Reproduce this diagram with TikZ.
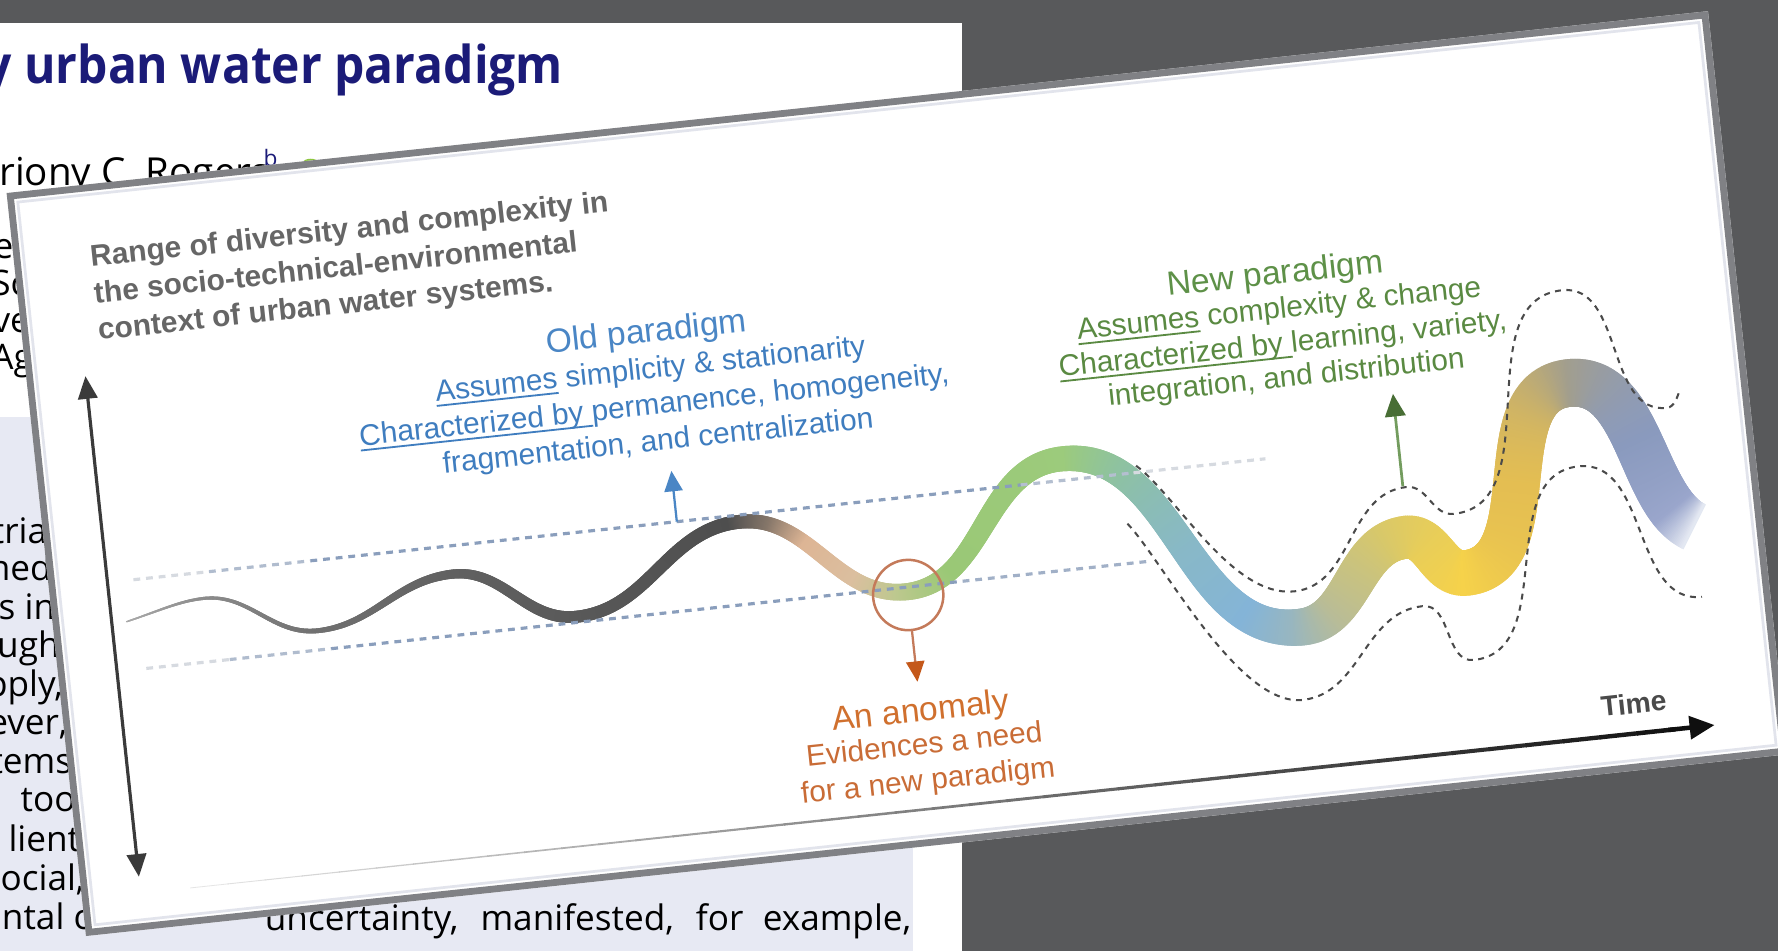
\documentclass[tikz,border=0pt]{standalone}
\usepackage{fontspec}
\setmainfont{Liberation Sans}
\newfontfamily\paperfont{Open Sans}
\newfontfamily\papertitle[FakeStretch=0.92]{Open Sans}
\usetikzlibrary{arrows.meta,decorations.markings}

% page and card colours
\definecolor{desk}{HTML}{58595B}
\definecolor{frame}{HTML}{808185}
\definecolor{framein}{HTML}{E2E4EC}
\definecolor{lav}{HTML}{E7E9F3}
\definecolor{navy}{HTML}{1B1B78}
\definecolor{orcid}{HTML}{8DC63F}
\definecolor{ttlgray}{HTML}{666666}
\definecolor{oldhead}{HTML}{4A86C5}
\definecolor{oldbody}{HTML}{3F7DBF}
\definecolor{newhead}{HTML}{5E9148}
\definecolor{newbody}{HTML}{5A8A42}
\definecolor{anhead}{HTML}{D0702E}
\definecolor{anbody}{HTML}{C96C36}
\definecolor{anring}{HTML}{C47A5A}
\definecolor{anarrow}{HTML}{C4581A}
\definecolor{dotblue}{HTML}{8A9EBC}
\definecolor{dotpale}{HTML}{D6DAE0}
\definecolor{envgray}{HTML}{4A4A4A}
\definecolor{axisdark}{HTML}{3A3A3A}
\definecolor{timegray}{HTML}{4A4A4A}

% colour stops of the trajectory ribbon
\definecolor{rs0}{HTML}{A9A9A9}
\definecolor{rs1}{HTML}{8C8C8C}
\definecolor{rs2}{HTML}{707070}
\definecolor{rs3}{HTML}{616161}
\definecolor{rs4}{HTML}{595959}
\definecolor{rs5}{HTML}{4E4E4E}
\definecolor{rs6}{HTML}{857669}
\definecolor{rs7}{HTML}{DDB595}
\definecolor{rs8}{HTML}{DBBF9F}
\definecolor{rs9}{HTML}{BEC88F}
\definecolor{rs10}{HTML}{9AC876}
\definecolor{rs11}{HTML}{9CCB7C}
\definecolor{rs12}{HTML}{8EC2A0}
\definecolor{rs13}{HTML}{88B8C8}
\definecolor{rs14}{HTML}{84B4D8}
\definecolor{rs15}{HTML}{98B6C0}
\definecolor{rs16}{HTML}{B8BC98}
\definecolor{rs17}{HTML}{D8C86A}
\definecolor{rs18}{HTML}{F6D24A}
\definecolor{rs19}{HTML}{E4BE52}
\definecolor{rs20}{HTML}{A29E8E}
\definecolor{rs21}{HTML}{8A9ABE}
\definecolor{rs22}{HTML}{9AA6CC}
\definecolor{rs23}{HTML}{E4E8F2}

% underline that sits just below the baseline
\newcommand\undl[1]{\leavevmode\setbox0=\hbox{#1}\rlap{\rule[-2.4pt]{\wd0}{0.8pt}}\box0\relax}

% linear blend between two stops: x0 x1 c0 c1 w0 w1
\newcommand\rmix[6]{%
  \pgfmathsetmacro\rt{(\rx-#1)/(#2-#1)}%
  \pgfmathsetmacro\rp{100*\rt}%
  \colorlet{rc}{#4!\rp!#3}%
  \pgfmathsetmacro\rw{0.25*(#5+(#6-#5)*\rt)}}

% colour and half width of the ribbon at card abscissa \rx
\newcommand\ribbonat{%
  \ifdim\rx pt<133pt \rmix{64}{133}{rs0}{rs1}{1.2}{2.6}\else
  \ifdim\rx pt<230pt \rmix{133}{230}{rs1}{rs2}{2.6}{4.2}\else
  \ifdim\rx pt<354pt \rmix{230}{354}{rs2}{rs3}{4.2}{8}\else
  \ifdim\rx pt<458pt \rmix{354}{458}{rs3}{rs4}{8}{10.5}\else
  \ifdim\rx pt<600pt \rmix{458}{600}{rs4}{rs5}{10.5}{12}\else
  \ifdim\rx pt<635pt \rmix{600}{635}{rs5}{rs6}{12}{12.5}\else
  \ifdim\rx pt<665pt \rmix{635}{665}{rs6}{rs7}{12.5}{13}\else
  \ifdim\rx pt<705pt \rmix{665}{705}{rs7}{rs8}{13}{13.5}\else
  \ifdim\rx pt<740pt \rmix{705}{740}{rs8}{rs9}{13.5}{14.5}\else
  \ifdim\rx pt<790pt \rmix{740}{790}{rs9}{rs10}{14.5}{16.5}\else
  \ifdim\rx pt<900pt \rmix{790}{900}{rs10}{rs11}{16.5}{22}\else
  \ifdim\rx pt<945pt \rmix{900}{945}{rs11}{rs12}{22}{24}\else
  \ifdim\rx pt<1000pt \rmix{945}{1000}{rs12}{rs13}{24}{26}\else
  \ifdim\rx pt<1045pt \rmix{1000}{1045}{rs13}{rs14}{26}{29}\else
  \ifdim\rx pt<1085pt \rmix{1045}{1085}{rs14}{rs15}{29}{32}\else
  \ifdim\rx pt<1120pt \rmix{1085}{1120}{rs15}{rs16}{32}{34}\else
  \ifdim\rx pt<1175pt \rmix{1120}{1175}{rs16}{rs17}{34}{37}\else
  \ifdim\rx pt<1240pt \rmix{1175}{1240}{rs17}{rs18}{37}{40}\else
  \ifdim\rx pt<1295pt \rmix{1240}{1295}{rs18}{rs19}{40}{41}\else
  \ifdim\rx pt<1350pt \rmix{1295}{1350}{rs19}{rs20}{41}{42}\else
  \ifdim\rx pt<1405pt \rmix{1350}{1405}{rs20}{rs21}{42}{43}\else
  \ifdim\rx pt<1430pt \rmix{1405}{1430}{rs21}{rs22}{43}{44}\else
  \rmix{1430}{1446}{rs22}{rs23}{44}{44}%
  \fi\fi\fi\fi\fi\fi\fi\fi\fi\fi\fi\fi\fi\fi\fi\fi\fi\fi\fi\fi\fi\fi}

% one slice of the ribbon, placed across the path
\newcommand\ribbonmark{%
  \pgfgettransformentries{\ta}{\tb}{\tc}{\td}{\tex}{\tey}%
  \pgfmathsetmacro\rx{max(64,2*((\tex-4)*cos(6.1)+(\tey+86)*sin(6.1)))}%
  \ifdim\rx pt<1446pt
    \ribbonat
    \fill[rc] (-0.65pt,-\rw pt) rectangle (0.65pt,\rw pt);
  \fi}

\tikzset{
  ribbon/.style={decoration={markings,
      mark=between positions 0 and 1 step 0.5pt with {\ribbonmark}}, decorate},
  pfrag/.style={font=\paperfont\fontsize{15.5}{18}\selectfont, inner sep=0pt, text=black},
  ttl/.style={font=\bfseries\fontsize{13.2}{15}\selectfont, text=ttlgray, inner sep=0pt, transform shape},
  headtxt/.style={font=\fontsize{14.8}{17}\selectfont, inner sep=0pt, anchor=base, transform shape},
  bodytxt/.style={font=\fontsize{13.15}{15}\selectfont, inner sep=0pt, anchor=base, transform shape},
  dots/.style={line width=1.4pt, dash pattern=on 3pt off 2.6pt},
  envdash/.style={envgray, line width=0.9pt, dash pattern=on 2.6pt off 2.4pt},
}

\begin{document}
\begin{tikzpicture}[x=0.5pt,y=-0.5pt]
\useasboundingbox (0,0) rectangle (1568,838);
\clip (0,0) rectangle (1568,838);
\fill[desk] (-10,-10) rectangle (1580,850);

% ---- article page behind the figure
\fill[white] (-10,20) rectangle (848,850);
\fill[lav] (-10,368) rectangle (805,850);
\node[anchor=base west, inner sep=0pt, text=navy,
      font=\papertitle\bfseries\fontsize{23}{27}\selectfont] (ptitle) at (-14,73.5) {y urban water paradigm};
\node[anchor=base west, inner sep=0pt, font=\paperfont\fontsize{17}{20}\selectfont] (author) at (-1,164) {riony C. Rogers};
\node[anchor=base west, inner sep=0pt, text=navy, font=\paperfont\fontsize{10}{12}\selectfont] (authsup) at (232,147) {b};
\fill[orcid] (274,152) circle [radius=12];

\node[pfrag, anchor=base west] (af1) at (-6,228) {e};
\node[pfrag, anchor=base west] (af2) at (-8,261) {Sc};
\node[pfrag, anchor=base west] (af3) at (-7,293) {ve};
\node[pfrag, anchor=base west] (af4) at (-8,325.5) {Ag};

\node[pfrag, anchor=base east] (pl1)  at (42,479) {tria};
\node[pfrag, anchor=base east] (pl2)  at (46,512) {ned};
\node[pfrag, anchor=base east] (pl3)  at (49,546) {s in};
\node[pfrag, anchor=base east] (pl4)  at (53,580) {ough};
\node[pfrag, anchor=base east] (pl5)  at (56,614) {pply,};
\node[pfrag, anchor=base east] (pl6)  at (60,648) {ever,};
\node[pfrag, anchor=base east] (pl7)  at (64,682) {tems};
\node[pfrag, anchor=base east] (pl8)  at (67,716) {too};
\node[pfrag, anchor=base east] (pl9)  at (71,751) {lient};
\node[pfrag, anchor=base east] (pl10) at (75,785) {ocial,};
\node[pfrag, anchor=base east] (pl11) at (80,820) {ntal c};
\node[pfrag, anchor=base east] (pl12) at (804,821) {\makebox[285pt][s]{uncertainty, manifested, for example,}};

% ---- the tilted figure card
\begin{scope}[shift={(8,172)}, rotate=6.1]
  \fill[white] (-2,-2) rectangle (1507,657);

  % title of the vertical axis
  \node[ttl, anchor=base west] (t1) at (65,70.6) {Range of diversity and complexity in};
  \node[ttl, anchor=base west] (t2) at (65,103) {the socio-technical-environmental};
  \node[ttl, anchor=base west] (t3) at (65,135.5) {context of urban water systems.};

  % axes
  \coordinate (vtop) at (50,166);
  \coordinate (vbot) at (50,610);
  \draw[axisdark, line width=1.4pt,
        {Triangle[length=10pt,width=8.5pt]}-{Triangle[length=10pt,width=8.5pt]}] (vtop) -- (vbot);

  \foreach \i in {0,...,39}{
    \pgfmathsetmacro\xa{94+\i*32.9}
    \pgfmathsetmacro\xb{\xa+34}
    \pgfmathsetmacro\pc{10+\i*2.1}
    \pgfmathsetmacro\lw{0.35+\i*0.042}
    \draw[black!\pc, line width=\lw pt] (\xa,624.6) -- (\xb,624.6);
  }
  \coordinate (tfrom) at (1405,624.6);
  \coordinate (ttip) at (1446,624.6);
  \draw[black!94, line width=2pt, -{Triangle[length=11pt,width=10pt]}] (tfrom) -- (ttip);
  \node[font=\bfseries\fontsize{12.5}{14}\selectfont, text=timegray, transform shape] (time) at (1377,598) {Time};

  % the trajectory ribbon
  \coordinate (w0) at (64,385);
  \coordinate (w1) at (133,372);
  \coordinate (w2) at (230,411);
  \coordinate (w3) at (353.5,374);
  \coordinate (w4) at (458.5,423);
  \coordinate (w5) at (610,355);
  \coordinate (w6) at (750,432);
  \coordinate (w7) at (898,330);
  \coordinate (w8) at (1093,500);
  \coordinate (w9) at (1193,431);
  \coordinate (w10) at (1242,468);
  \coordinate (w11) at (1350,311);
  \coordinate (w12) at (1470,455);
  \path[ribbon] (w0) .. controls (95,378) and (112,372) .. (w1)
     to[out=0,in=180] (w2) to[out=0,in=180] (w3) to[out=0,in=180] (w4)
     to[out=0,in=180] (w5) to[out=0,in=180] (w6) to[out=0,in=180] (w7)
     to[out=0,in=180] (w8) to[out=0,in=180] (w9) to[out=0,in=180] (w10)
     to[out=0,in=180] (w11) to[out=0,in=180] (w12);

  % bounds of the old regime
  \draw[dots, dotpale] (73,349) -- (140,349);
  \draw[dots, dotblue!50!dotpale] (140,349) -- (230,349);
  \draw[dots, dotblue] (230,349) -- (860,349);
  \draw[dots, dotblue!45!dotpale] (860,349) -- (960,349);
  \draw[dots, dotpale] (960,349) -- (1077,349);
  \draw[dots, dotpale] (76,428) -- (150,428);
  \draw[dots, dotblue!50!dotpale] (150,428) -- (240,428);
  \draw[dots, dotblue] (240,428) -- (800,428);
  \draw[dots, dotblue!70!dotpale] (800,428) -- (966,428);

  % envelope of the new regime
  \coordinate (u0) at (963,343);
  \coordinate (u1) at (1090,468);
  \coordinate (u2) at (1198,387);
  \coordinate (u3) at (1237,415);
  \coordinate (u4) at (1353,229);
  \coordinate (u5) at (1434,342);
  \coordinate (u6) at (1447,327);
  \draw[envdash] (u0) .. controls (995,372) and (1035,468) .. (u1)
     to[out=0,in=180] (u2) to[out=0,in=180] (u3) to[out=0,in=180] (u4)
     to[out=0,in=180] (u5) .. controls (1440,342) and (1444,334) .. (u6);
  \coordinate (l0) at (950,393);
  \coordinate (l1) at (1087,564);
  \coordinate (l2) at (1201,493);
  \coordinate (l3) at (1241,545);
  \coordinate (l4) at (1351,385);
  \coordinate (l5) at (1447,511);
  \draw[envdash] (l0) .. controls (977,428) and (1030,564) .. (l1)
     to[out=0,in=180] (l2) to[out=0,in=180] (l3) to[out=0,in=180] (l4)
     to[out=0,in=180] (l5);

  % old paradigm
  \node[headtxt, text=oldhead] (oh) at (546,189) {Old paradigm};
  \node[bodytxt, text=oldbody] (o1) at (546,221) {\undl{Assumes} simplicity \& stationarity};
  \node[bodytxt, text=oldbody] (o2) at (546,253) {\undl{Characterized by\ }permanence, homogeneity,};
  \node[bodytxt, text=oldbody] (o3) at (546,285) {fragmentation, and centralization};
  \coordinate (obase) at (555,349);
  \coordinate (otip) at (555,304);
  \draw[oldhead, line width=1pt, -{Triangle[length=9pt,width=8pt]}] (obase) -- (otip);

  % new paradigm
  \node[headtxt, text=newhead] (nh) at (1103,197) {New paradigm};
  \node[bodytxt, text=newbody] (n1) at (1103,227) {\undl{Assumes} complexity \& change};
  \node[bodytxt, text=newbody] (n2) at (1103,258) {\undl{Characterized by\ }learning, variety,};
  \node[bodytxt, text=newbody] (n3) at (1103,288) {integration, and distribution};
  \coordinate (nbase) at (1195,386);
  \coordinate (ntip) at (1195,304);
  \draw[newbody!85!white, line width=1.2pt,
        -{Triangle[length=10pt,width=9pt,color=newbody!80!black]}] (nbase) -- (ntip);

  % the anomaly
  \node[circle, draw=anring, line width=1.1pt, minimum size=31pt, inner sep=0pt, transform shape] (ring) at (751,435) {};
  \coordinate (atip) at (751,512);
  \draw[anring, line width=1pt, -{Triangle[length=9pt,width=8pt,color=anarrow]}] (ring.south) -- (atip);
  \node[headtxt, text=anhead] (ah) at (751,547) {An anomaly};
  \node[bodytxt, text=anbody] (a1) at (751,576) {Evidences a need};
  \node[bodytxt, text=anbody] (a2) at (751,608) {for a new paradigm};

  % card frame
  \draw[framein, line width=1.2pt] (7,7) rectangle (1498,648);
  \draw[frame, line width=3pt] (1,1) rectangle (1504,654);
\end{scope}
\end{tikzpicture}
\end{document}
